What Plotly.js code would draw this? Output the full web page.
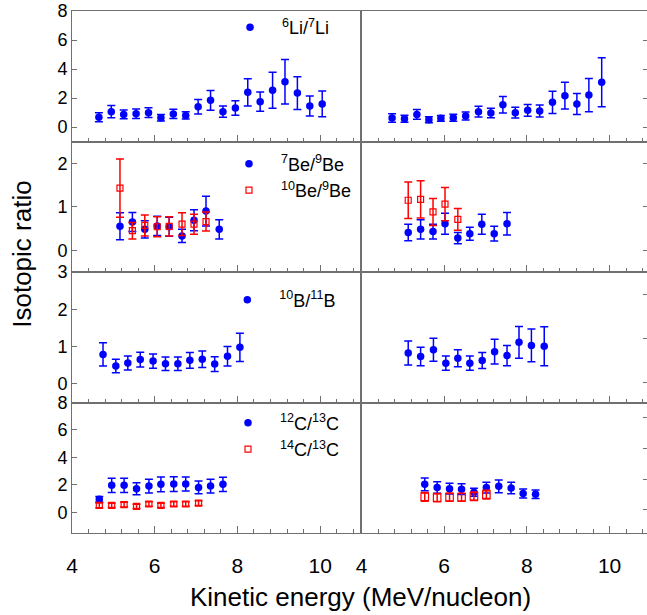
<!DOCTYPE html>
<html>
<head>
<meta charset="utf-8">
<script src="https://cdn.plot.ly/plotly-3.0.1.min.js"></script>
<style>
html, body { margin: 0; padding: 0; overflow: hidden; background: #fff; }
#chart { width: 648px; height: 615px; }
</style>
</head>
<body>
<div id="chart"></div>
<script>
// ---------- DATA ----------
// Row 1: 6Li/7Li
const liX_L = [4.65, 4.95, 5.25, 5.55, 5.85, 6.15, 6.45, 6.75, 7.05, 7.35, 7.65, 7.95, 8.25, 8.55, 8.85, 9.15, 9.45, 9.75, 10.05];
const liY_L = [0.67, 1.06, 0.87, 0.92, 0.99, 0.64, 0.90, 0.80, 1.40, 1.84, 1.06, 1.31, 2.39, 1.75, 2.53, 3.12, 2.34, 1.45, 1.59];
const liE_L = [0.31, 0.43, 0.30, 0.33, 0.34, 0.22, 0.32, 0.25, 0.50, 0.68, 0.39, 0.50, 0.94, 0.67, 1.24, 1.53, 1.13, 0.69, 0.89];
const liX_R = [4.74, 5.04, 5.34, 5.63, 5.92, 6.22, 6.52, 6.83, 7.13, 7.42, 7.72, 8.02, 8.31, 8.62, 8.92, 9.21, 9.50, 9.81];
const liY_R = [0.62, 0.57, 0.87, 0.50, 0.60, 0.64, 0.76, 1.06, 0.97, 1.54, 0.99, 1.15, 1.10, 1.70, 2.16, 1.59, 2.20, 3.08];
const liE_R = [0.30, 0.24, 0.34, 0.20, 0.20, 0.24, 0.28, 0.37, 0.33, 0.57, 0.37, 0.40, 0.41, 0.77, 0.92, 0.72, 1.14, 1.69];

// Row 2: 7Be/9Be and 10Be/9Be
const be7X_L = [5.16, 5.46, 5.76, 6.06, 6.35, 6.66, 6.95, 7.24, 7.56];
const be7Y_L = [0.55, 0.65, 0.48, 0.56, 0.54, 0.33, 0.69, 0.90, 0.48];
const be7E_L = [0.31, 0.22, 0.20, 0.22, 0.22, 0.15, 0.24, 0.34, 0.22];
const be10X_L = [5.16, 5.46, 5.76, 6.06, 6.35, 6.66, 6.95, 7.24];
const be10Y_L = [1.43, 0.45, 0.57, 0.54, 0.55, 0.60, 0.60, 0.66];
const be10E_L = [0.67, 0.19, 0.24, 0.23, 0.22, 0.26, 0.23, 0.22];
const be7X_R = [5.13, 5.43, 5.73, 6.02, 6.33, 6.62, 6.91, 7.21, 7.52];
const be7Y_R = [0.41, 0.48, 0.43, 0.61, 0.28, 0.38, 0.60, 0.38, 0.61];
const be7E_R = [0.19, 0.22, 0.17, 0.24, 0.13, 0.15, 0.23, 0.17, 0.26];
const be10X_R = [5.13, 5.43, 5.73, 6.02, 6.33];
const be10Y_R = [1.15, 1.17, 0.88, 1.06, 0.71];
const be10E_R = [0.42, 0.43, 0.31, 0.38, 0.25];

// Row 3: 10B/11B
const bX_L = [4.75, 5.06, 5.35, 5.65, 5.96, 6.26, 6.56, 6.85, 7.15, 7.45, 7.76, 8.06];
const bY_L = [0.79, 0.48, 0.56, 0.65, 0.61, 0.54, 0.54, 0.63, 0.66, 0.53, 0.74, 0.98];
const bE_L = [0.31, 0.18, 0.19, 0.20, 0.19, 0.18, 0.18, 0.21, 0.22, 0.20, 0.26, 0.38];
const bX_R = [5.13, 5.43, 5.74, 6.04, 6.33, 6.62, 6.92, 7.22, 7.52, 7.81, 8.11, 8.42];
const bY_R = [0.67, 0.59, 0.74, 0.44, 0.55, 0.44, 0.50, 0.70, 0.61, 0.91, 0.84, 0.82];
const bE_R = [0.27, 0.21, 0.26, 0.16, 0.19, 0.16, 0.18, 0.28, 0.23, 0.36, 0.37, 0.44];

// Row 4: 12C/13C and 14C/13C
const c12X_L = [4.66, 4.96, 5.26, 5.56, 5.86, 6.15, 6.46, 6.75, 7.06, 7.35, 7.65];
const c12Y_L = [0.95, 1.97, 1.97, 1.72, 1.92, 2.04, 2.06, 2.06, 1.82, 1.92, 2.04];
const c12E_L = [0.20, 0.52, 0.52, 0.44, 0.50, 0.53, 0.53, 0.51, 0.47, 0.50, 0.52];
const c14X_L = [4.66, 4.96, 5.26, 5.56, 5.86, 6.15, 6.46, 6.75, 7.06];
const c14Y_L = [0.51, 0.51, 0.56, 0.44, 0.61, 0.51, 0.61, 0.61, 0.68];
const c14E_L = [0.18, 0.15, 0.17, 0.16, 0.16, 0.16, 0.16, 0.16, 0.17];
const c12X_R = [5.53, 5.83, 6.13, 6.42, 6.72, 7.02, 7.32, 7.62, 7.91, 8.21];
const c12Y_R = [1.67, 1.46, 1.39, 1.35, 1.15, 1.46, 1.54, 1.43, 1.07, 1.02];
const c12E_R = [0.42, 0.37, 0.35, 0.35, 0.26, 0.35, 0.42, 0.38, 0.29, 0.28];
const c14X_R = [5.53, 5.83, 6.13, 6.42, 6.72, 7.02];
const c14Y_R = [0.85, 0.80, 0.83, 0.83, 0.89, 1.00];
const c14E_R = [0.28, 0.27, 0.27, 0.26, 0.28, 0.28];

// Labels
const names = {
  li: '<sup>6</sup>Li/<sup>7</sup>Li',
  be7: '<sup>7</sup>Be/<sup>9</sup>Be',
  be10: '<sup>10</sup>Be/<sup>9</sup>Be',
  b: '<sup>10</sup>B/<sup>11</sup>B',
  c12: '<sup>12</sup>C/<sup>13</sup>C',
  c14: '<sup>14</sup>C/<sup>13</sup>C'
};
const xTitle = 'Kinetic energy (MeV/nucleon)';
const yTitle = 'Isotopic ratio';

// ---------- STYLE ----------
const BLUE = '#0000ff';
const RED = '#ff0000';
const LINE = '#707070';
const FONT = 'Liberation Sans, Arial, sans-serif';

function blue(x, y, e, xa, ya, name, legend, show) {
  return {
    type: 'scatter', mode: 'markers', x: x, y: y, xaxis: xa, yaxis: ya,
    name: name, legend: legend, showlegend: show,
    marker: { symbol: 'circle', size: 7.5, color: BLUE },
    error_y: { type: 'data', array: e, visible: true, color: BLUE, thickness: 1.5, width: 4 }
  };
}
function red(x, y, e, xa, ya, name, legend, show, sz) {
  return {
    type: 'scatter', mode: 'markers', x: x, y: y, xaxis: xa, yaxis: ya,
    name: name, legend: legend, showlegend: show,
    marker: { symbol: 'square-open', size: sz || 6, color: RED, line: { color: RED, width: 1.2 } },
    error_y: { type: 'data', array: e, visible: true, color: RED, thickness: 1.5, width: 4 }
  };
}

const traces = [
  blue(liX_L, liY_L, liE_L, 'x', 'y', names.li, 'legend', true),
  blue(liX_R, liY_R, liE_R, 'x2', 'y2', names.li, 'legend', false),
  blue(be7X_L, be7Y_L, be7E_L, 'x3', 'y3', names.be7, 'legend2', true),
  red(be10X_L, be10Y_L, be10E_L, 'x3', 'y3', names.be10, 'legend2', true),
  blue(be7X_R, be7Y_R, be7E_R, 'x4', 'y4', names.be7, 'legend2', false),
  red(be10X_R, be10Y_R, be10E_R, 'x4', 'y4', names.be10, 'legend2', false),
  blue(bX_L, bY_L, bE_L, 'x5', 'y5', names.b, 'legend3', true),
  blue(bX_R, bY_R, bE_R, 'x6', 'y6', names.b, 'legend3', false),
  blue(c12X_L, c12Y_L, c12E_L, 'x7', 'y7', names.c12, 'legend4', true),
  red(c14X_L, c14Y_L, c14E_L, 'x7', 'y7', names.c14, 'legend4', true),
  blue(c12X_R, c12Y_R, c12E_R, 'x8', 'y8', names.c12, 'legend4', false),
  red(c14X_R, c14Y_R, c14E_R, 'x8', 'y8', names.c14, 'legend4', false, 7.5)
];

const splitX = 0.5026;
const rows = [[0.75, 1], [0.5, 0.75], [0.25, 0.5], [0, 0.25]];
const yRangesL = [[-1, 8], [-0.5, 2.5], [-0.5, 3], [-1.5, 8]];
const yRangesR = [[-1, 8], [-0.5, 2.5], [-0.45, 2.5], [-1.5, 7]];
const yDt = [2, 1, 1, 2];
const yDtR = [2, 1, 1, 2];

const layout = {
  width: 648, height: 615,
  margin: { l: 72, r: 0, t: 11, b: 82 },
  paper_bgcolor: '#fff', plot_bgcolor: '#fff',
  font: { family: FONT, color: '#000' },
  annotations: [
    { text: xTitle, xref: 'paper', yref: 'paper', x: 0.5014, y: -0.122, xanchor: 'center', yanchor: 'middle', showarrow: false, font: { size: 26, color: '#000', family: FONT } },
    { text: yTitle, xref: 'paper', yref: 'paper', x: -0.0868, y: 0.533, xanchor: 'center', yanchor: 'middle', textangle: -90, showarrow: false, font: { size: 26, color: '#000', family: FONT } }
  ]
};

function legendAt(x, y) {
  return { x: x, y: y, xanchor: 'left', yanchor: 'top', bgcolor: 'rgba(0,0,0,0)', borderwidth: 0,
           font: { size: 18, family: FONT, color: '#000' }, itemwidth: 54, tracegroupgap: 0, traceorder: 'normal' };
}
layout.legend = legendAt(0.2535, 1.0038);
layout.legend2 = legendAt(0.2517, 0.7421);
layout.legend3 = legendAt(0.2488, 0.4817);
layout.legend4 = legendAt(0.2500, 0.2462);

for (let r = 0; r < 4; r++) {
  const iL = 2 * r + 1, iR = 2 * r + 2;
  const kxL = iL === 1 ? 'xaxis' : 'xaxis' + iL;
  const kxR = 'xaxis' + iR;
  const kyL = iL === 1 ? 'yaxis' : 'yaxis' + iL;
  const kyR = 'yaxis' + iR;
  const bottom = r === 3;
  const xCommon = {
    showline: true, mirror: true, linecolor: LINE, linewidth: 1,
    ticks: 'inside', ticklen: 7, tickcolor: LINE, tickwidth: 1,
    tick0: 4, dtick: 2, showgrid: false, zeroline: false, fixedrange: true,
    minor: { ticks: 'inside', ticklen: 4, tickcolor: LINE, dtick: 0.4, tick0: 4, showgrid: false },
    showticklabels: bottom, tickfont: { size: 21, family: FONT, color: '#000' }, ticklabelstandoff: 14
  };
  layout[kxL] = Object.assign({}, xCommon, { domain: [0, splitX], range: [4, 11], anchor: iL === 1 ? 'y' : 'y' + iL });
  layout[kxR] = Object.assign({}, xCommon, { domain: [splitX, 1], range: [4, 10.93], anchor: 'y' + iR });
  const yCommon = {
    showline: true, mirror: true, linecolor: LINE, linewidth: 1,
    ticks: 'inside', ticklen: 5, tickcolor: LINE, tickwidth: 1,
    showgrid: false, zeroline: false, fixedrange: true, tick0: 0,
    tickfont: { size: 18, family: FONT, color: '#000' }
  };
  layout[kyL] = Object.assign({}, yCommon, { domain: rows[r], range: yRangesL[r], dtick: yDt[r], anchor: iL === 1 ? 'x' : 'x' + iL, side: 'left' });
  layout[kyR] = Object.assign({}, yCommon, { domain: rows[r], range: yRangesR[r], dtick: yDtR[r], anchor: 'x' + iR, side: 'right', showticklabels: false });
}

Plotly.newPlot('chart', traces, layout, { displayModeBar: false, staticPlot: true });
</script>
</body>
</html>
